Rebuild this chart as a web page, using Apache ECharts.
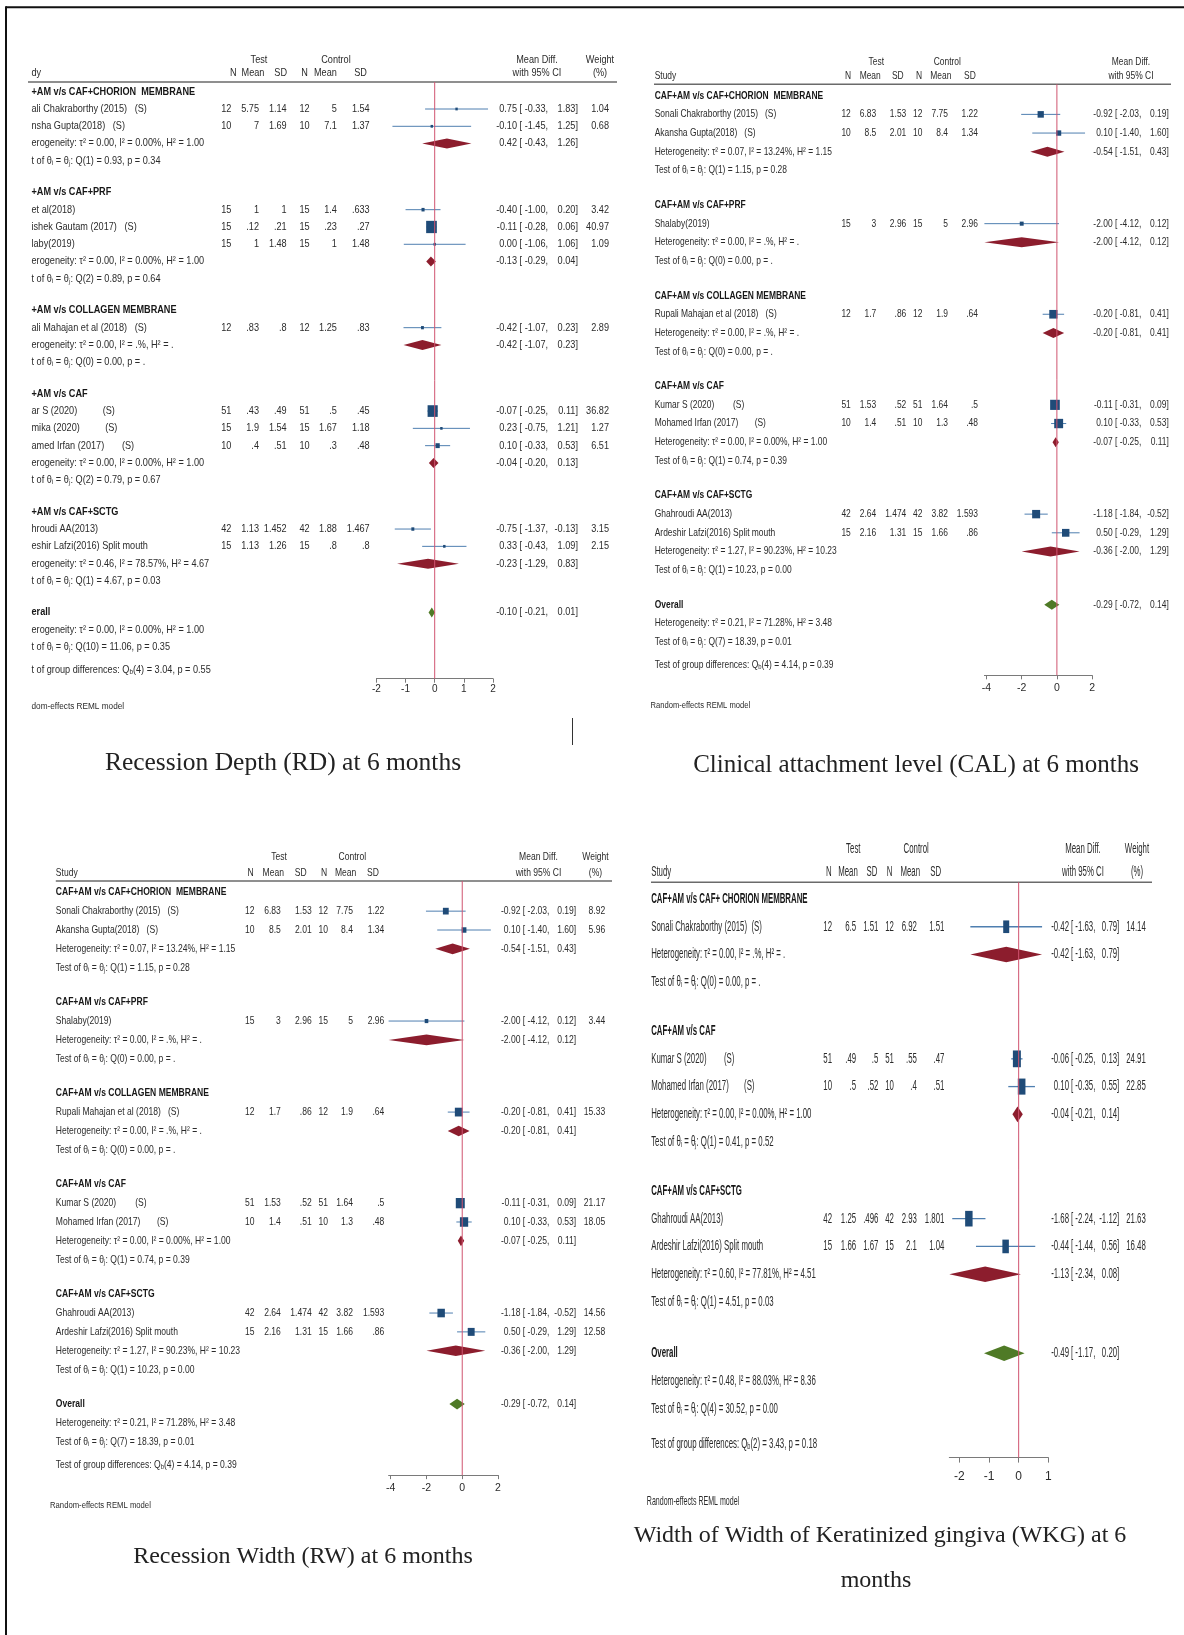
<!DOCTYPE html>
<html lang="en">
<head>
<meta charset="UTF-8">
<title>Forest plots - CAF+AM at 6 months</title>
<style>
  html, body { margin: 0; padding: 0; background: #fff; }
  #chart { width: 1184px; height: 1635px; }
</style>
<script src="https://cdn.jsdelivr.net/npm/echarts@6/dist/echarts.min.js"></script>
</head>
<body>
<div id="chart"></div>
<script>
// ---------- data ----------
// study rows: [group, study, N, Mean, SD, N, Mean, SD, mean diff, lo, hi, weight]
const colHeaders = ['N', 'Mean', 'SD', 'N', 'Mean', 'SD'];

// Recession Depth (left side of this panel is cropped in the original)
const rdGroups = ['+AM v/s CAF+CHORION  MEMBRANE', '+AM v/s CAF+PRF', '+AM v/s COLLAGEN MEMBRANE', '+AM v/s CAF', '+AM v/s CAF+SCTG'];
const rdStudies = [
  [0, 'ali Chakraborthy (2015)   (S)', 12, 5.75, 1.14, 12, 5, 1.54, 0.75, -0.33, 1.83, 1.04],
  [0, 'nsha Gupta(2018)   (S)', 10, 7, 1.69, 10, 7.1, 1.37, -0.10, -1.45, 1.25, 0.68],
  [1, 'et al(2018)', 15, 1, 1, 15, 1.4, 0.633, -0.40, -1.00, 0.20, 3.42],
  [1, 'ishek Gautam (2017)   (S)', 15, 0.12, 0.21, 15, 0.23, 0.27, -0.11, -0.28, 0.06, 40.97],
  [1, 'laby(2019)', 15, 1, 1.48, 15, 1, 1.48, 0.00, -1.06, 1.06, 1.09],
  [2, 'ali Mahajan et al (2018)   (S)', 12, 0.83, 0.8, 12, 1.25, 0.83, -0.42, -1.07, 0.23, 2.89],
  [3, 'ar S (2020)          (S)', 51, 0.43, 0.49, 51, 0.5, 0.45, -0.07, -0.25, 0.11, 36.82],
  [3, 'mika (2020)          (S)', 15, 1.9, 1.54, 15, 1.67, 1.18, 0.23, -0.75, 1.21, 1.27],
  [3, 'amed Irfan (2017)       (S)', 10, 0.4, 0.51, 10, 0.3, 0.48, 0.10, -0.33, 0.53, 6.51],
  [4, 'hroudi AA(2013)', 42, 1.13, 1.452, 42, 1.88, 1.467, -0.75, -1.37, -0.13, 3.15],
  [4, 'eshir Lafzi(2016) Split mouth', 15, 1.13, 1.26, 15, 0.8, 0.8, 0.33, -0.43, 1.09, 2.15]
];
const rdSub = [[0.42, -0.43, 1.26], [-0.13, -0.29, 0.04], [-0.42, -1.07, 0.23], [-0.04, -0.20, 0.13], [-0.23, -1.29, 0.83]];
const rdHet = ['τ² = 0.00, I² = 0.00%, H² = 1.00', 'τ² = 0.00, I² = 0.00%, H² = 1.00', 'τ² = 0.00, I² = .%, H² = .',
  'τ² = 0.00, I² = 0.00%, H² = 1.00', 'τ² = 0.46, I² = 78.57%, H² = 4.67'];
const rdQ = ['Q(1) = 0.93, p = 0.34', 'Q(2) = 0.89, p = 0.64', 'Q(0) = 0.00, p = .', 'Q(2) = 0.79, p = 0.67', 'Q(1) = 4.67, p = 0.03'];
const rdOverall = [-0.10, -0.21, 0.01];
const rdOverallHet = 'τ² = 0.00, I² = 0.00%, H² = 1.00';
const rdOverallQ = 'Q(10) = 11.06, p = 0.35';
const rdGroupDiff = ['4', '3.04', '0.55'];
const rdRange = [-2, 2];
const rdTicks = [-2, -1, 0, 1, 2];

// Clinical attachment level
const calGroups = ['CAF+AM v/s CAF+CHORION  MEMBRANE', 'CAF+AM v/s CAF+PRF', 'CAF+AM v/s COLLAGEN MEMBRANE', 'CAF+AM v/s CAF', 'CAF+AM v/s CAF+SCTG'];
const calStudies = [
  [0, 'Sonali Chakraborthy (2015)   (S)', 12, 6.83, 1.53, 12, 7.75, 1.22, -0.92, -2.03, 0.19, 8.92],
  [0, 'Akansha Gupta(2018)   (S)', 10, 8.5, 2.01, 10, 8.4, 1.34, 0.10, -1.40, 1.60, 5.96],
  [1, 'Shalaby(2019)', 15, 3, 2.96, 15, 5, 2.96, -2.00, -4.12, 0.12, 3.44],
  [2, 'Rupali Mahajan et al (2018)   (S)', 12, 1.7, 0.86, 12, 1.9, 0.64, -0.20, -0.81, 0.41, 15.33],
  [3, 'Kumar S (2020)        (S)', 51, 1.53, 0.52, 51, 1.64, 0.5, -0.11, -0.31, 0.09, 21.17],
  [3, 'Mohamed Irfan (2017)       (S)', 10, 1.4, 0.51, 10, 1.3, 0.48, 0.10, -0.33, 0.53, 18.05],
  [4, 'Ghahroudi AA(2013)', 42, 2.64, 1.474, 42, 3.82, 1.593, -1.18, -1.84, -0.52, 14.56],
  [4, 'Ardeshir Lafzi(2016) Split mouth', 15, 2.16, 1.31, 15, 1.66, 0.86, 0.50, -0.29, 1.29, 12.58]
];
const calSub = [[-0.54, -1.51, 0.43], [-2.00, -4.12, 0.12], [-0.20, -0.81, 0.41], [-0.07, -0.25, 0.11], [-0.36, -2.00, 1.29]];
const calHet = ['τ² = 0.07, I² = 13.24%, H² = 1.15', 'τ² = 0.00, I² = .%, H² = .', 'τ² = 0.00, I² = .%, H² = .',
  'τ² = 0.00, I² = 0.00%, H² = 1.00', 'τ² = 1.27, I² = 90.23%, H² = 10.23'];
const calQ = ['Q(1) = 1.15, p = 0.28', 'Q(0) = 0.00, p = .', 'Q(0) = 0.00, p = .', 'Q(1) = 0.74, p = 0.39', 'Q(1) = 10.23, p = 0.00'];
const calOverall = [-0.29, -0.72, 0.14];
const calOverallHet = 'τ² = 0.21, I² = 71.28%, H² = 3.48';
const calOverallQ = 'Q(7) = 18.39, p = 0.01';
const calGroupDiff = ['4', '4.14', '0.39'];
const calRange = [-4.12, 2];
const calTicks = [-4, -2, 0, 2];

// Recession Width (same numbers as printed in the figure)
const rwGroups = ['CAF+AM v/s CAF+CHORION  MEMBRANE', 'CAF+AM v/s CAF+PRF', 'CAF+AM v/s COLLAGEN MEMBRANE', 'CAF+AM v/s CAF', 'CAF+AM v/s CAF+SCTG'];
const rwStudies = [
  [0, 'Sonali Chakraborthy (2015)   (S)', 12, 6.83, 1.53, 12, 7.75, 1.22, -0.92, -2.03, 0.19, 8.92],
  [0, 'Akansha Gupta(2018)   (S)', 10, 8.5, 2.01, 10, 8.4, 1.34, 0.10, -1.40, 1.60, 5.96],
  [1, 'Shalaby(2019)', 15, 3, 2.96, 15, 5, 2.96, -2.00, -4.12, 0.12, 3.44],
  [2, 'Rupali Mahajan et al (2018)   (S)', 12, 1.7, 0.86, 12, 1.9, 0.64, -0.20, -0.81, 0.41, 15.33],
  [3, 'Kumar S (2020)        (S)', 51, 1.53, 0.52, 51, 1.64, 0.5, -0.11, -0.31, 0.09, 21.17],
  [3, 'Mohamed Irfan (2017)       (S)', 10, 1.4, 0.51, 10, 1.3, 0.48, 0.10, -0.33, 0.53, 18.05],
  [4, 'Ghahroudi AA(2013)', 42, 2.64, 1.474, 42, 3.82, 1.593, -1.18, -1.84, -0.52, 14.56],
  [4, 'Ardeshir Lafzi(2016) Split mouth', 15, 2.16, 1.31, 15, 1.66, 0.86, 0.50, -0.29, 1.29, 12.58]
];
const rwSub = [[-0.54, -1.51, 0.43], [-2.00, -4.12, 0.12], [-0.20, -0.81, 0.41], [-0.07, -0.25, 0.11], [-0.36, -2.00, 1.29]];
const rwHet = ['τ² = 0.07, I² = 13.24%, H² = 1.15', 'τ² = 0.00, I² = .%, H² = .', 'τ² = 0.00, I² = .%, H² = .',
  'τ² = 0.00, I² = 0.00%, H² = 1.00', 'τ² = 1.27, I² = 90.23%, H² = 10.23'];
const rwQ = ['Q(1) = 1.15, p = 0.28', 'Q(0) = 0.00, p = .', 'Q(0) = 0.00, p = .', 'Q(1) = 0.74, p = 0.39', 'Q(1) = 10.23, p = 0.00'];
const rwOverall = [-0.29, -0.72, 0.14];
const rwOverallHet = 'τ² = 0.21, I² = 71.28%, H² = 3.48';
const rwOverallQ = 'Q(7) = 18.39, p = 0.01';
const rwGroupDiff = ['4', '4.14', '0.39'];
const rwRange = [-4.12, 2];
const rwTicks = [-4, -2, 0, 2];

// Width of keratinized gingiva
const wkgGroups = ['CAF+AM v/s CAF+ CHORION MEMBRANE', 'CAF+AM v/s CAF', 'CAF+AM v/s CAF+SCTG'];
const wkgStudies = [
  [0, 'Sonali Chakraborthy (2015)  (S)', 12, 6.5, 1.51, 12, 6.92, 1.51, -0.42, -1.63, 0.79, 14.14],
  [1, 'Kumar S (2020)        (S)', 51, 0.49, 0.5, 51, 0.55, 0.47, -0.06, -0.25, 0.13, 24.91],
  [1, 'Mohamed Irfan (2017)       (S)', 10, 0.5, 0.52, 10, 0.4, 0.51, 0.10, -0.35, 0.55, 22.85],
  [2, 'Ghahroudi AA(2013)', 42, 1.25, 0.496, 42, 2.93, 1.801, -1.68, -2.24, -1.12, 21.63],
  [2, 'Ardeshir Lafzi(2016) Split mouth', 15, 1.66, 1.67, 15, 2.1, 1.04, -0.44, -1.44, 0.56, 16.48]
];
const wkgSub = [[-0.42, -1.63, 0.79], [-0.04, -0.21, 0.14], [-1.13, -2.34, 0.08]];
const wkgHet = ['τ² = 0.00, I² = .%, H² = .', 'τ² = 0.00, I² = 0.00%, H² = 1.00', 'τ² = 0.60, I² = 77.81%, H² = 4.51'];
const wkgQ = ['Q(0) = 0.00, p = .', 'Q(1) = 0.41, p = 0.52', 'Q(1) = 4.51, p = 0.03'];
const wkgOverall = [-0.49, -1.17, 0.20];
const wkgOverallHet = 'τ² = 0.48, I² = 88.03%, H² = 8.36';
const wkgOverallQ = 'Q(4) = 30.52, p = 0.00';
const wkgGroupDiff = ['2', '3.43', '0.18'];
const wkgRange = [-2.34, 1];
const wkgTicks = [-2, -1, 0, 1];

// ---------- styles ----------
const SANS = '"Liberation Sans", Arial, Helvetica, sans-serif';
const SERIF = '"Liberation Serif", "Times New Roman", serif';
const TEXT = '#2b2b2b';
const DARK = '#161616';
const CI_COL = '#4f7fb0';
const SQ_COL = '#1f4b78';
const DIA_COL = '#8c1d2d';
const ALL_COL = '#4f7a26';
const REF_COL = '#d05470';

// ---------- panel layouts (pixel positions) ----------
const panels = [
  {
    groups: rdGroups, studies: rdStudies, sub: rdSub, het: rdHet, q: rdQ,
    overall: rdOverall, overallHet: rdOverallHet, overallQ: rdOverallQ, gdiff: rdGroupDiff,
    range: rdRange, ticks: rdTicks,
    studyHdr: 'dy', hetLbl: 'erogeneity: ', testLbl: 't of θᵢ = θⱼ: ', overallLbl: 'erall',
    gdiffLbl: 't of group differences: ', foot: 'dom-effects REML model',
    textX: 31.5, fs: 10.4, sx: 0.88,
    firstY: 91.7, step: 17.3, gap: 0.82, overallGap: 0.82, gdiffGap: 1.35, axisGap: 0.48,
    lineY: 82, lineX: [28, 617], hdrY: [60, 73],
    colR: [231.3, 259, 286.7, 309.6, 336.9, 369.7], hdrC: [233.3, 253, 280.7, 304.5, 325.4, 360.6],
    testC: 259, ctrlC: 336, mdC: 537, wC: 600, wR: 609,
    ci: { xe: 517, xb: 519.6, xh: 575.4 },
    axisX: [376.4, 493], sqK: 1.67, sqA: 1.15, dh: 5, ciW: 1,
    labelFs: 10, labelMargin: 6, tickLen: 4, footX: 31.5, footY: 706.7
  },
  {
    groups: calGroups, studies: calStudies, sub: calSub, het: calHet, q: calQ,
    overall: calOverall, overallHet: calOverallHet, overallQ: calOverallQ, gdiff: calGroupDiff,
    range: calRange, ticks: calTicks,
    studyHdr: 'Study', hetLbl: 'Heterogeneity: ', testLbl: 'Test of θᵢ = θⱼ: ', overallLbl: 'Overall',
    gdiffLbl: 'Test of group differences: ', foot: 'Random-effects REML model',
    textX: 654.7, fs: 10.7, sx: 0.79,
    firstY: 95.7, step: 18.68, gap: 0.85, overallGap: 0.85, gdiffGap: 1.25, axisGap: 0.53,
    lineY: 84.3, lineX: [654, 1171], hdrY: [61.7, 76],
    colR: [850.8, 876.2, 906.3, 922.5, 948, 978], hdrC: [848, 870.2, 897.8, 919, 940.9, 969.9],
    testC: 876.3, ctrlC: 947.3, mdC: 1131, wC: null, wR: null,
    ci: { xe: 1112.6, xb: 1115, xh: 1166.5 },
    axisX: [984.4, 1092.1], sqK: 2.1, sqA: 1.05, dh: 5, ciW: 1,
    labelFs: 10.5, labelMargin: 7, tickLen: 4, footX: 650.5, footY: 705.7
  },
  {
    groups: rwGroups, studies: rwStudies, sub: rwSub, het: rwHet, q: rwQ,
    overall: rwOverall, overallHet: rwOverallHet, overallQ: rwOverallQ, gdiff: rwGroupDiff,
    range: rwRange, ticks: rwTicks,
    studyHdr: 'Study', hetLbl: 'Heterogeneity: ', testLbl: 'Test of θᵢ = θⱼ: ', overallLbl: 'Overall',
    gdiffLbl: 'Test of group differences: ', foot: 'Random-effects REML model',
    textX: 55.8, fs: 10.7, sx: 0.8,
    firstY: 892.3, step: 18.85, gap: 0.83, overallGap: 0.83, gdiffGap: 1.24, axisGap: 0.53,
    lineY: 881, lineX: [55.8, 612], hdrY: [857.3, 872.7],
    colR: [254.5, 280.8, 311.7, 327.9, 353, 384.3], hdrC: [250.7, 273.3, 300.8, 324, 345.6, 373],
    testC: 279, ctrlC: 352.3, mdC: 538.5, wC: 595.5, wR: 605.2,
    ci: { xe: 520.4, xb: 522.8, xh: 573.8 },
    axisX: [388.6, 498], sqK: 1.95, sqA: 1.15, dh: 5.3, ciW: 1,
    labelFs: 10.5, labelMargin: 7, tickLen: 4, footX: 50, footY: 1505
  },
  {
    groups: wkgGroups, studies: wkgStudies, sub: wkgSub, het: wkgHet, q: wkgQ,
    overall: wkgOverall, overallHet: wkgOverallHet, overallQ: wkgOverallQ, gdiff: wkgGroupDiff,
    range: wkgRange, ticks: wkgTicks,
    studyHdr: 'Study', hetLbl: 'Heterogeneity: ', testLbl: 'Test of θᵢ = θⱼ: ', overallLbl: 'Overall',
    gdiffLbl: 'Test of group differences: ', foot: 'Random-effects REML model',
    textX: 651.2, fs: 14, sx: 0.56,
    firstY: 899, step: 27.75, gap: 0.76, overallGap: 0.85, gdiffGap: 1.26, axisGap: 0.5,
    lineY: 882.3, lineX: [651, 1152], hdrY: [849.3, 871.7],
    colR: [832, 856.1, 878.4, 893.9, 916.9, 944.4], hdrC: [828.9, 848, 872, 889.7, 910.2, 935.6],
    testC: 853.3, ctrlC: 916.2, mdC: 1083, wC: 1137, wR: 1145.8,
    ci: { xe: 1069, xb: 1071, xh: 1117.1 },
    axisX: [949.3, 1048.3], sqK: 1.6, sqA: 2.1, dh: 7.8, ciW: 1.3,
    labelFs: 12, labelMargin: 13, tickLen: 5, footX: 646.8, footY: 1502
  }
];

// ---------- helpers ----------
function fmtStat(v) {
  let s = String(v);
  if (s.indexOf('0.') === 0) s = s.slice(1);
  return s;
}
function f2(v) { return v.toFixed(2); }

function txt(P, x, y, text, o) {
  o = o || {};
  const align = o.align || 'left';
  const style = {
    text: text, fontSize: o.fs || P.fs, fontFamily: SANS,
    fontWeight: o.bold ? 'bold' : 'normal', fill: o.color || TEXT,
    align: align, verticalAlign: 'middle', textAlign: align, textVerticalAlign: 'middle'
  };
  if (o.rich) style.rich = o.rich;
  return { type: 'text', x: x, y: y, scaleX: P.sx, style: style };
}

function ciTexts(P, y, md, lo, hi) {
  return [
    txt(P, P.ci.xe, y, f2(md), { align: 'right' }),
    txt(P, P.ci.xb, y, '[ ' + f2(lo) + ',', {}),
    txt(P, P.ci.xh, y, f2(hi), { align: 'right' }),
    txt(P, P.ci.xh, y, ']', {})
  ];
}

function buildRows(P) {
  const rows = [];
  let pos = 0;
  P.groups.forEach(function (g, gi) {
    if (gi > 0) pos += 1 + P.gap;
    rows.push({ kind: 'group', pos: pos, gi: gi });
    P.studies.forEach(function (s) {
      if (s[0] !== gi) return;
      pos += 1;
      rows.push({ kind: 'study', pos: pos, s: s });
    });
    pos += 1; rows.push({ kind: 'het', pos: pos, gi: gi });
    pos += 1; rows.push({ kind: 'test', pos: pos, gi: gi });
  });
  pos += 1 + P.overallGap; rows.push({ kind: 'overall', pos: pos });
  pos += 1; rows.push({ kind: 'ohet', pos: pos });
  pos += 1; rows.push({ kind: 'otest', pos: pos });
  pos += P.gdiffGap; rows.push({ kind: 'gdiff', pos: pos });
  return rows;
}

function headerEls(P) {
  const y1 = P.hdrY[0], y2 = P.hdrY[1];
  const k = [];
  k.push(txt(P, P.textX, y2, P.studyHdr));
  k.push(txt(P, P.testC, y1, 'Test', { align: 'center' }));
  k.push(txt(P, P.ctrlC, y1, 'Control', { align: 'center' }));
  colHeaders.forEach(function (h, j) { k.push(txt(P, P.hdrC[j], y2, h, { align: 'center' })); });
  k.push(txt(P, P.mdC, y1, 'Mean Diff.', { align: 'center' }));
  k.push(txt(P, P.mdC, y2, 'with 95% CI', { align: 'center' }));
  if (P.wC) {
    k.push(txt(P, P.wC, y1, 'Weight', { align: 'center' }));
    k.push(txt(P, P.wC, y2, '(%)', { align: 'center' }));
  }
  k.push({ type: 'line', shape: { x1: P.lineX[0], y1: P.lineY, x2: P.lineX[1], y2: P.lineY },
    style: { stroke: '#6a6a6a', lineWidth: 1.6 } });
  k.push(txt(P, P.footX, P.footY, P.foot, { fs: P.fs * 0.9 }));
  return k;
}

function rowEls(P, r, y) {
  const k = [];
  const rich = { s: { fontSize: P.fs * 0.7, fontFamily: SANS, fill: TEXT, padding: [P.fs * 0.35, 0, 0, 0] } };
  if (r.kind === 'group') {
    k.push(txt(P, P.textX, y, P.groups[r.gi], { bold: true, color: DARK }));
  } else if (r.kind === 'study') {
    const s = r.s;
    k.push(txt(P, P.textX, y, s[1]));
    for (let j = 0; j < 6; j++) k.push(txt(P, P.colR[j], y, fmtStat(s[2 + j]), { align: 'right' }));
    ciTexts(P, y, s[8], s[9], s[10]).forEach(function (e) { k.push(e); });
    if (P.wR) k.push(txt(P, P.wR, y, f2(s[11]), { align: 'right' }));
  } else if (r.kind === 'het') {
    k.push(txt(P, P.textX, y, P.hetLbl + P.het[r.gi]));
    const t = P.sub[r.gi];
    ciTexts(P, y, t[0], t[1], t[2]).forEach(function (e) { k.push(e); });
  } else if (r.kind === 'test') {
    k.push(txt(P, P.textX, y, P.testLbl + P.q[r.gi]));
  } else if (r.kind === 'overall') {
    k.push(txt(P, P.textX, y, P.overallLbl, { bold: true, color: DARK }));
    ciTexts(P, y, P.overall[0], P.overall[1], P.overall[2]).forEach(function (e) { k.push(e); });
  } else if (r.kind === 'ohet') {
    k.push(txt(P, P.textX, y, P.hetLbl + P.overallHet));
  } else if (r.kind === 'otest') {
    k.push(txt(P, P.textX, y, P.testLbl + P.overallQ));
  } else if (r.kind === 'gdiff') {
    const g = P.gdiff;
    k.push(txt(P, P.textX, y, P.gdiffLbl + 'Q{s|b}(' + g[0] + ') = ' + g[1] + ', p = ' + g[2], { rich: rich }));
  }
  return k;
}

// ---------- build option ----------
const grids = [], xAxes = [], yAxes = [], series = [];

panels.forEach(function (P, i) {
  const rows = buildRows(P);
  const yMin = (P.lineY - P.firstY) / P.step;
  const yMax = rows[rows.length - 1].pos + P.axisGap;

  grids.push({
    left: P.axisX[0], top: P.lineY,
    width: P.axisX[1] - P.axisX[0], height: (yMax - yMin) * P.step
  });
  xAxes.push({
    gridIndex: i, type: 'value', min: P.range[0], max: P.range[1], position: 'bottom',
    axisLine: { show: true, onZero: false, lineStyle: { color: '#7a7a7a', width: 1 } },
    axisTick: { show: true, length: P.tickLen, customValues: P.ticks, lineStyle: { color: '#7a7a7a' } },
    axisLabel: { customValues: P.ticks, fontSize: P.labelFs, fontFamily: SANS, color: TEXT, margin: P.labelMargin },
    splitLine: { show: false }
  });
  yAxes.push({ gridIndex: i, type: 'value', inverse: true, min: yMin, max: yMax, show: false });

  // text table
  const textData = [[0, yMin]].concat(rows.map(function (r) { return [0, r.pos]; }));
  series.push({
    type: 'custom', xAxisIndex: i, yAxisIndex: i, silent: true, z: 3,
    data: textData, encode: { x: 0, y: 1 },
    renderItem: function (params, api) {
      if (params.dataIndex === 0) return { type: 'group', children: headerEls(P) };
      const r = rows[params.dataIndex - 1];
      const y = api.coord([0, api.value(1)])[1];
      return { type: 'group', children: rowEls(P, r, y) };
    }
  });

  // study squares with confidence intervals
  const studyData = rows.filter(function (r) { return r.kind === 'study'; })
    .map(function (r) { return [r.s[8], r.s[9], r.s[10], r.pos, r.s[11]]; });
  series.push({
    type: 'custom', xAxisIndex: i, yAxisIndex: i, silent: true, z: 4,
    data: studyData, encode: { x: [0, 1, 2], y: 3 },
    renderItem: function (params, api) {
      const pos = api.value(3);
      const y = api.coord([0, pos])[1];
      const xm = api.coord([api.value(0), pos])[0];
      const xl = api.coord([api.value(1), pos])[0];
      const xh = api.coord([api.value(2), pos])[0];
      const sw = Math.max(2.4, P.sqK * Math.sqrt(api.value(4)));
      const sh = sw * P.sqA;
      return {
        type: 'group', children: [
          { type: 'line', shape: { x1: xl, y1: y, x2: xh, y2: y }, style: { stroke: CI_COL, lineWidth: P.ciW } },
          { type: 'rect', shape: { x: xm - sw / 2, y: y - sh / 2, width: sw, height: sh }, style: { fill: SQ_COL } }
        ]
      };
    }
  });

  // subgroup and overall diamonds
  const diaData = rows.filter(function (r) { return r.kind === 'het' || r.kind === 'overall'; })
    .map(function (r) {
      const t = r.kind === 'het' ? P.sub[r.gi] : P.overall;
      return [t[0], t[1], t[2], r.pos, r.kind === 'overall' ? 1 : 0];
    });
  series.push({
    type: 'custom', xAxisIndex: i, yAxisIndex: i, silent: true, z: 4,
    data: diaData, encode: { x: [0, 1, 2], y: 3 },
    renderItem: function (params, api) {
      const pos = api.value(3);
      const y = api.coord([0, pos])[1];
      const xm = api.coord([api.value(0), pos])[0];
      const xl = api.coord([api.value(1), pos])[0];
      const xh = api.coord([api.value(2), pos])[0];
      return {
        type: 'polygon',
        shape: { points: [[xl, y], [xm, y - P.dh], [xh, y], [xm, y + P.dh]] },
        style: { fill: api.value(4) ? ALL_COL : DIA_COL }
      };
    }
  });

  // line of no effect
  series.push({
    type: 'custom', xAxisIndex: i, yAxisIndex: i, silent: true, z: 5,
    data: [[0, yMin, yMax]], encode: { x: 0, y: [1, 2] },
    renderItem: function (params, api) {
      const a = api.coord([api.value(0), api.value(1)]);
      const b = api.coord([api.value(0), api.value(2)]);
      return { type: 'line', shape: { x1: a[0], y1: a[1], x2: b[0], y2: b[1] }, style: { stroke: REF_COL, lineWidth: 1 } };
    }
  });
});

// captions, frame and the small separator mark
const captions = [
  ['Recession Depth (RD) at 6 months', 283, 763, 25.5],
  ['Clinical attachment level (CAL) at 6 months', 916, 765.5, 25],
  ['Recession Width (RW) at 6 months', 303, 1557, 24],
  ['Width of Width of Keratinized gingiva (WKG) at 6', 880, 1536, 24],
  ['months', 876, 1581, 24]
];
const graphics = captions.map(function (c) {
  return {
    type: 'text', x: c[1], y: c[2],
    style: { text: c[0], fontFamily: SERIF, fontSize: c[3], fill: '#222', align: 'center', verticalAlign: 'middle',
      textAlign: 'center', textVerticalAlign: 'middle' }
  };
});
graphics.push({ type: 'line', shape: { x1: 6, y1: 7.3, x2: 1184, y2: 7.3 }, style: { stroke: '#111', lineWidth: 2 } });
graphics.push({ type: 'line', shape: { x1: 6, y1: 6.3, x2: 6, y2: 1635 }, style: { stroke: '#111', lineWidth: 2 } });
graphics.push({ type: 'line', shape: { x1: 572.5, y1: 718, x2: 572.5, y2: 745 }, style: { stroke: '#333', lineWidth: 1 } });

const chart = echarts.init(document.getElementById('chart'), null, { renderer: 'canvas' });
chart.setOption({
  animation: false,
  backgroundColor: '#ffffff',
  grid: grids,
  xAxis: xAxes,
  yAxis: yAxes,
  series: series,
  graphic: graphics
});
</script>
</body>
</html>
